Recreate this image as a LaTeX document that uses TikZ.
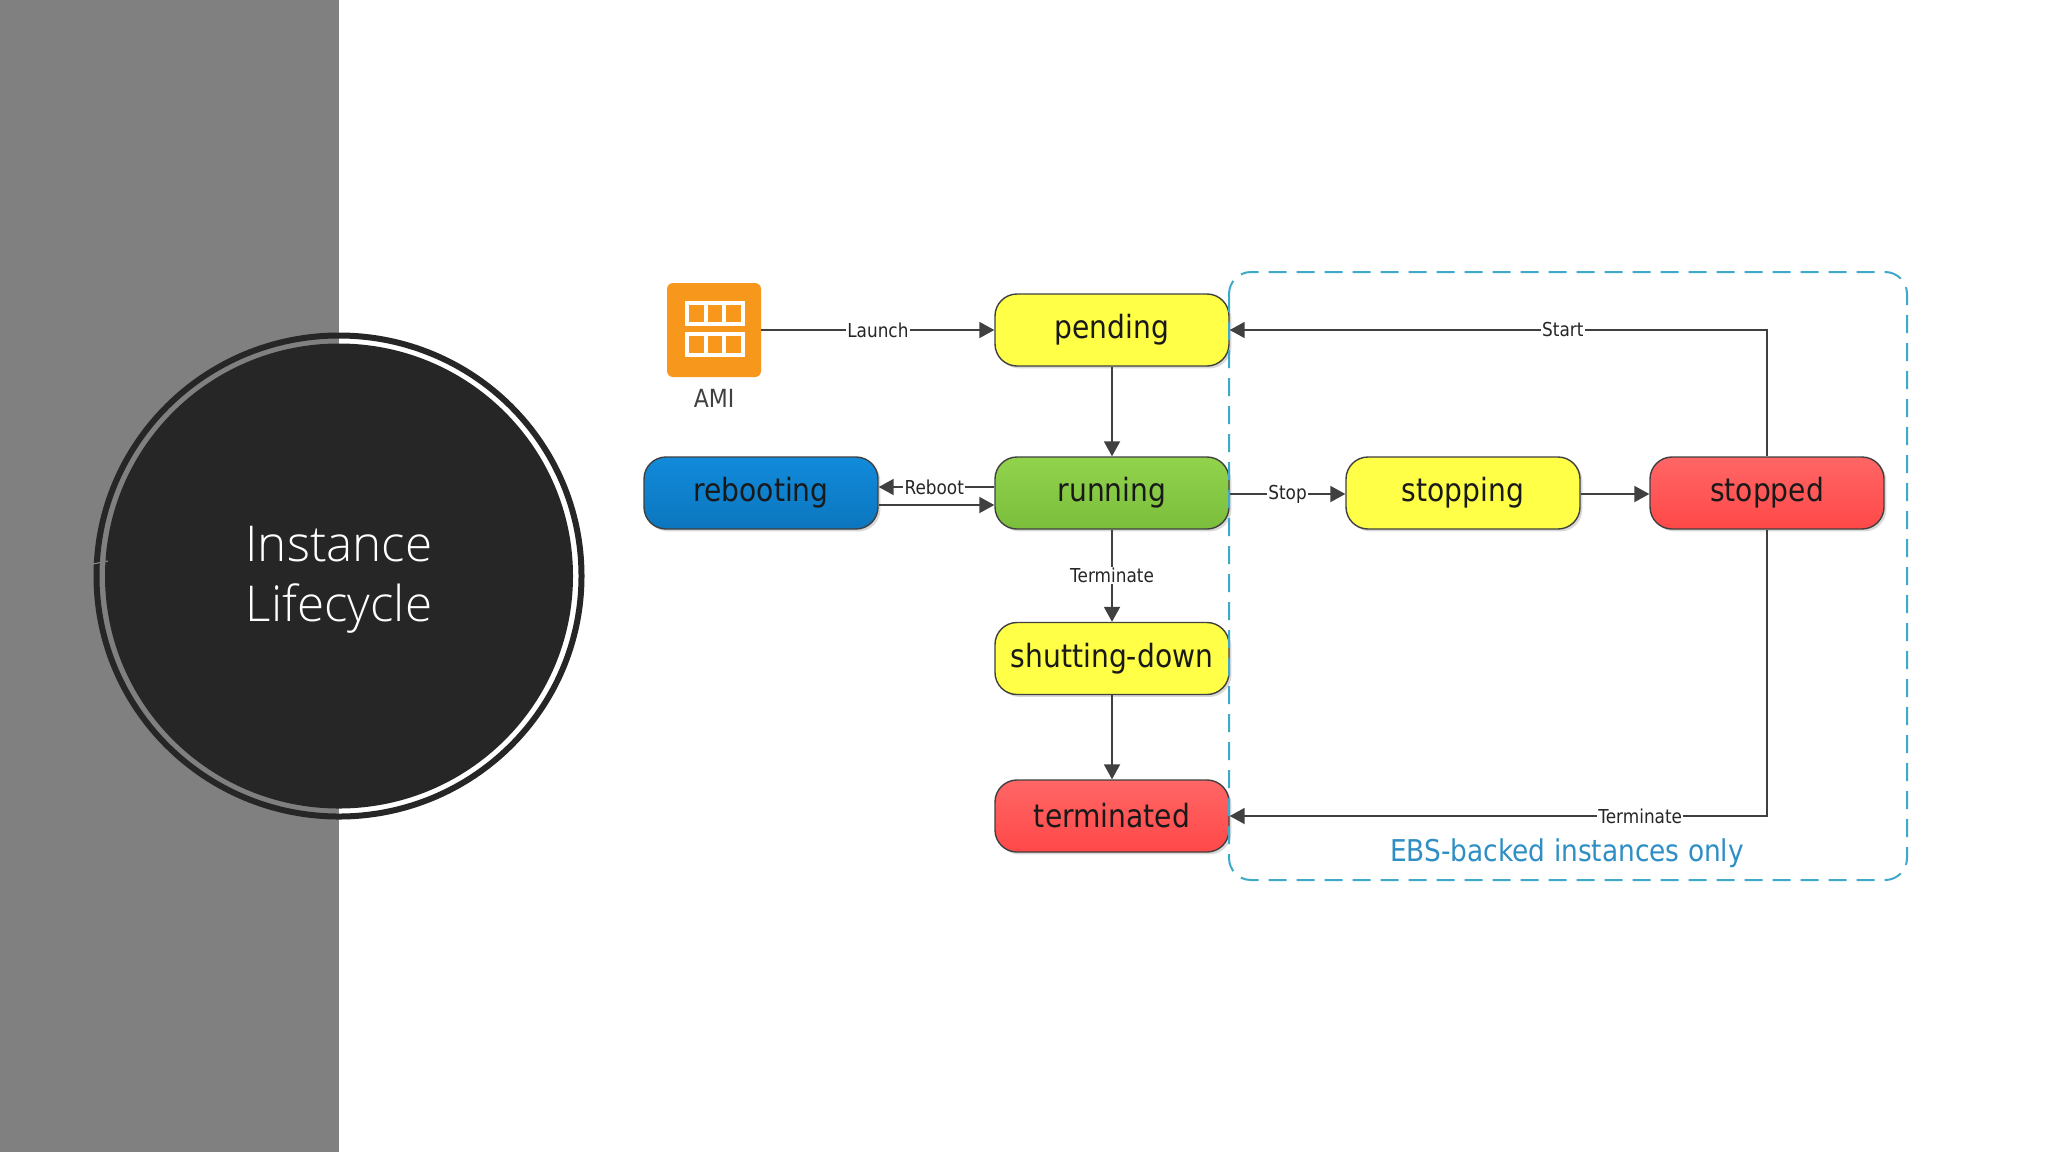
\documentclass[tikz,border=0pt]{standalone}
\usepackage{fontspec}
\usetikzlibrary{arrows.meta,shadows,calc}
\newfontfamily\dgfont{DejaVu Sans}[FakeStretch=0.88]
\newfontfamily\titlefont{Open Sans}[UprightFont=* Light]
\definecolor{ringdark}{HTML}{262626}
\definecolor{sidegray}{HTML}{808080}
\definecolor{linedark}{HTML}{404040}
\definecolor{ebsblue}{HTML}{3FA9C9}
\definecolor{ebstext}{HTML}{2F8FC4}
\definecolor{amiorange}{HTML}{F7981D}
\tikzset{
  statebox/.style={draw=linedark,line width=0.7pt,rounded corners=11pt,minimum width=117pt,minimum height=36pt,
    inner sep=0pt,font=\dgfont\fontsize{16}{18}\selectfont,text=black!90,
    general shadow={shadow xshift=1.2pt,shadow yshift=-1.2pt,fill=black!15}},
  yellowbox/.style={statebox,top color=yellow!72!white,bottom color=yellow!72!white},
  greenbox/.style={statebox,top color={rgb,255:red,146;green,211;blue,76},bottom color={rgb,255:red,122;green,190;blue,60}},
  bluebox/.style={statebox,top color={rgb,255:red,17;green,139;blue,219},bottom color={rgb,255:red,12;green,118;blue,190}},
  redbox/.style={statebox,top color={rgb,255:red,255;green,102;blue,102},bottom color={rgb,255:red,255;green,72;blue,72}},
  conn/.style={draw=linedark,line width=0.95pt,-{Triangle[length=7.5pt,width=8pt,fill=linedark]}},
  lbl/.style={fill=white,inner sep=0.6pt,font=\dgfont\fontsize{9.6}{10}\selectfont,text=black!85},
}
\begin{document}
\begin{tikzpicture}[x=0.5pt,y=-0.5pt]
\useasboundingbox (0,0) rectangle (2048,1152);
\fill[white] (0,0) rectangle (2048,1152);
\fill[sidegray] (0,0) rectangle (339,1152);
% title disc
\draw[ringdark,line width=3pt] (339,576) ellipse [x radius=242.5,y radius=240.5];
\fill[ringdark] (339,576) ellipse [x radius=234,y radius=232.5];
\draw[sidegray,line width=0.6pt] (93,564) -- (108,561);
\node[align=center,text=white,font=\titlefont\fontsize{24.7}{30}\selectfont] (title) at (339,580) {Instance\\Lifecycle};
% AMI icon
\node[fill=amiorange,rounded corners=3pt,minimum size=47pt,inner sep=0pt] (ami) at (714,330) {};
\foreach \yy in {303,334}{
  \draw[white,line width=2pt] (687,\yy) rectangle (743,\yy+21);
  \draw[white,line width=2pt] (706,\yy) -- (706,\yy+21) (724,\yy) -- (724,\yy+21);
}
\node[font=\dgfont\fontsize{12.5}{14}\selectfont,text=black!75] (amilabel) at (714,398) {AMI};
% states
\node[yellowbox] (pending) at (1112,330) {pending};
\node[greenbox] (running) at (1112,493) {running};
\node[bluebox] (rebooting) at (761,493) {rebooting};
\node[yellowbox] (shutting) at (1112,658.5) {shutting-down};
\node[redbox] (terminated) at (1112,816) {terminated};
\node[yellowbox] (stopping) at (1463,493) {stopping};
\node[redbox] (stopped) at (1767,493) {stopped};
% EBS region
\draw[ebsblue,line width=1pt,dash pattern=on 9pt off 5pt,rounded corners=11pt] (1229,272) rectangle (1907,880);
\node[text=ebstext,font=\dgfont\fontsize{15}{17}\selectfont] (ebs) at (1567,853) {EBS-backed instances only};
% connectors
\draw[conn] (ami.east) -- node[lbl,pos=0.5] {Launch} (pending.west);
\draw[conn] (pending.south) -- (running.north);
\draw[conn] ($(running.west)+(0,-6)$) -- node[lbl,pos=0.52] {Reboot} ($(rebooting.east)+(0,-6)$);
\draw[conn] ($(rebooting.east)+(0,12)$) -- ($(running.west)+(0,12)$);
\draw[conn] ($(running.east)+(0,1)$) -- node[lbl,pos=0.5] {Stop} ($(stopping.west)+(0,1)$);
\draw[conn] ($(stopping.east)+(0,1)$) -- ($(stopped.west)+(0,1)$);
\draw[conn] (running.south) -- node[lbl,pos=0.5] {Terminate} (shutting.north);
\draw[conn] (shutting.south) -- (terminated.north);
\draw[conn] (stopped.north) |- node[lbl,pos=0.69] {Start} (pending.east);
\draw[conn] (stopped.south) |- node[lbl,pos=0.618] {Terminate} (terminated.east);
\end{tikzpicture}
\end{document}
